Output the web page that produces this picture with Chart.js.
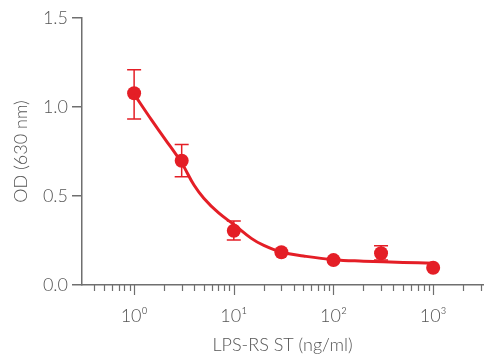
<!DOCTYPE html>
<html lang="en">
<head>
  <meta charset="UTF-8">
  <title>LPS-RS ST dose response</title>
  <script src="https://cdn.jsdelivr.net/npm/chart.js"></script>
  <style>
    body { margin: 0; padding: 0; background: #fff; }
  </style>
</head>
<body>
  <canvas id="odChart" width="500" height="361"></canvas>

  <script>
    // Measured points (mean and error bar ends)
    const doses = [1, 3, 10, 30, 100, 300, 1000];
    const odMean = [1.077, 0.698, 0.305, 0.184, 0.140, 0.178, 0.097];
    const odHigh = [1.209, 0.789, 0.360, null, null, 0.221, null];
    const odLow = [0.932, 0.608, 0.253, null, null, 0.140, null];

    // Fitted curve
    const fitDoses = [1, 1.5, 2, 3, 4, 5, 7, 10, 15, 20, 30, 50, 100, 200, 500, 1000];
    const fitOd = [1.072, 0.926, 0.827, 0.685, 0.560, 0.488, 0.406, 0.340, 0.262, 0.222, 0.185, 0.163, 0.142, 0.134, 0.127, 0.122];

    // Axis ticks
    const majorTicks = [1, 10, 100, 1000];
    const majorLabels = ['10⁰', '10¹', '10²', '10³'];
    const minorTicks = [0.4, 0.5, 0.6, 0.7, 0.8, 0.9, 2, 3, 4, 5, 6, 7, 8, 9,
      20, 30, 40, 50, 60, 70, 80, 90, 200, 300, 400, 500, 600, 700, 800, 900, 2000, 3000];
    const yTicks = [0, 0.5, 1.0, 1.5];

    const red = '#e41e26';
    const axisColor = '#6f6f6f';
    const textColor = '#555555';
    const font = { family: 'Lato, "Open Sans", sans-serif', size: 18, weight: 300 };

    // x tick marks: long for decades, short for the rest
    const tickMarks = {
      id: 'tickMarks',
      afterDraw(chart) {
        const s = chart.scales.x;
        const ctx = chart.ctx;
        ctx.save();
        ctx.strokeStyle = axisColor;
        ctx.lineWidth = 1.2;
        s.ticks.forEach(t => {
          const px = Math.round(s.getPixelForValue(t.value)) + 0.5;
          const len = t.major ? 10 : 6;
          ctx.beginPath();
          ctx.moveTo(px, s.top);
          ctx.lineTo(px, s.top + len);
          ctx.stroke();
        });
        ctx.restore();
      }
    };

    // error bars under the points
    const errorBars = {
      id: 'errorBars',
      beforeDatasetsDraw(chart) {
        const xs = chart.scales.x, ys = chart.scales.y;
        const ctx = chart.ctx;
        ctx.save();
        ctx.strokeStyle = red;
        ctx.lineWidth = 1.5;
        doses.forEach((d, i) => {
          if (odHigh[i] == null) return;
          const px = xs.getPixelForValue(d);
          const top = ys.getPixelForValue(odHigh[i]);
          const bot = ys.getPixelForValue(odLow[i]);
          ctx.beginPath();
          ctx.moveTo(px, top); ctx.lineTo(px, bot);
          ctx.moveTo(px - 7, top); ctx.lineTo(px + 7, top);
          ctx.moveTo(px - 7, bot); ctx.lineTo(px + 7, bot);
          ctx.stroke();
        });
        ctx.restore();
      }
    };

    const ctx = document.getElementById('odChart').getContext('2d');
    new Chart(ctx, {
      type: 'line',
      data: {
        datasets: [
          {
            data: fitDoses.map((d, i) => ({ x: d, y: fitOd[i] })),
            borderColor: red,
            borderWidth: 3,
            pointRadius: 0,
            tension: 0.4,
            fill: false
          },
          {
            data: doses.map((d, i) => ({ x: d, y: odMean[i] })),
            showLine: false,
            pointRadius: 7,
            pointBackgroundColor: red,
            pointBorderWidth: 0
          }
        ]
      },
      options: {
        responsive: false,
        animation: false,
        layout: { padding: { top: 18, right: 17, left: 0, bottom: 0 } },
        plugins: { legend: { display: false }, tooltip: { enabled: false } },
        scales: {
          x: {
            type: 'logarithmic',
            min: 0.31,
            max: 3162,
            afterBuildTicks: s => {
              s.ticks = minorTicks.concat(majorTicks).sort((a, b) => a - b)
                .map(v => ({ value: v, major: majorTicks.includes(v) }));
            },
            afterFit: s => { s.height = 76; },
            ticks: {
              autoSkip: false,
              maxRotation: 0,
              padding: 12,
              color: textColor,
              font: font,
              callback: v => {
                const i = majorTicks.indexOf(v);
                return i >= 0 ? majorLabels[i] : '';
              }
            },
            grid: { display: false },
            border: { display: true, color: axisColor, width: 1.5 },
            title: {
              display: true,
              text: 'LPS-RS ST (ng/ml)',
              color: textColor,
              font: font,
              padding: { top: 4, bottom: 5 }
            }
          },
          y: {
            min: 0,
            max: 1.5,
            afterBuildTicks: s => { s.ticks = yTicks.map(v => ({ value: v })); },
            afterFit: s => { s.width = 82; },
            ticks: {
              padding: 4,
              color: textColor,
              font: font,
              callback: v => v.toFixed(1)
            },
            grid: { drawOnChartArea: false, tickLength: 10, color: axisColor, lineWidth: 1.5 },
            border: { display: true, color: axisColor, width: 1.5 },
            title: {
              display: true,
              text: 'OD (630 nm)',
              color: textColor,
              font: font,
              padding: { top: 10, bottom: 0 }
            }
          }
        }
      },
      plugins: [errorBars, tickMarks]
    });
  </script>
</body>
</html>
